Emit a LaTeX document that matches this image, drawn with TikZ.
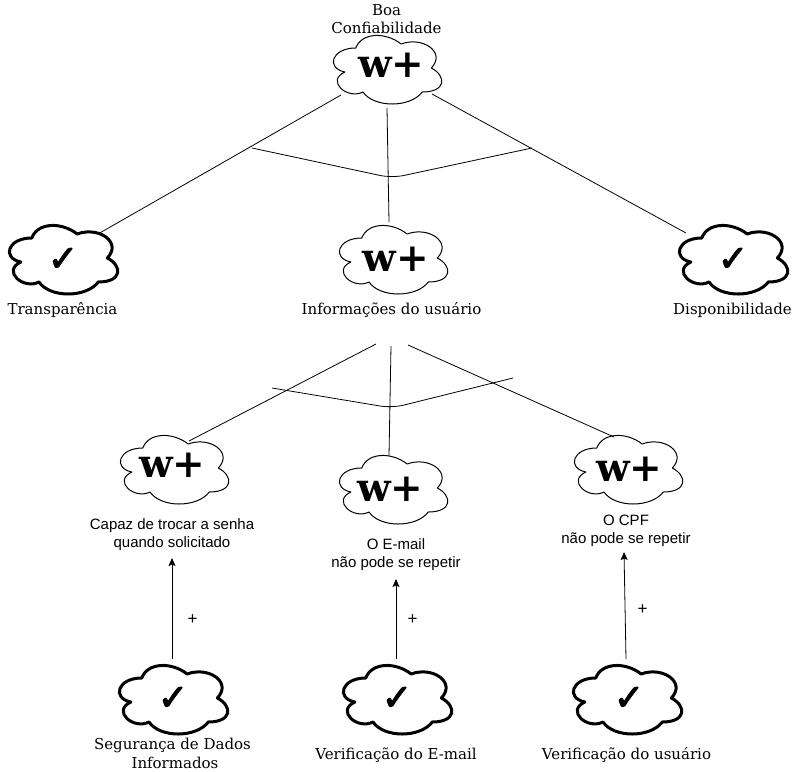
\documentclass[tikz,border=0pt]{standalone}
\usepackage{fontspec}
\usetikzlibrary{arrows.meta}
\setmainfont{DejaVu Serif}
\newfontfamily\sanslabel{Liberation Sans}
\newfontfamily\symfont[FakeBold=3]{DejaVu Sans}
\tikzset{
  x=1pt,y=-1pt,
  line/.style={draw=black,line width=0.8pt},
  tree/.style={line,rounded corners=12pt},
  arrow/.style={line,-{Stealth[length=8pt,width=7pt,inset=1.5pt]}},
  serif/.style={font=\fontsize{15}{18.5}\selectfont,align=center,text=black,inner sep=0pt},
  sans/.style={font=\sanslabel\fontsize{15}{18}\selectfont,align=center,text=black,inner sep=0pt},
  plus/.style={font=\sanslabel\fontsize{17}{18}\selectfont,text=black,inner sep=0pt},
  wplus/.style={font=\bfseries\fontsize{39}{39}\selectfont,inner sep=0pt},
  check/.style={font=\symfont\fontsize{36}{36}\selectfont,inner sep=0pt},
  pics/cld/.style={code={
    \draw[line width=#1,line join=round]
      (0.25*121,0.25*80) .. controls (0.05*121,0.25*80) and (0,0.5*80) .. (0.16*121,0.55*80)
      .. controls (0,0.66*80) and (0.18*121,0.9*80) .. (0.31*121,0.8*80)
      .. controls (0.4*121,80) and (0.7*121,80) .. (0.8*121,0.8*80)
      .. controls (121,0.8*80) and (121,0.6*80) .. (0.875*121,0.5*80)
      .. controls (121,0.3*80) and (0.8*121,0.1*80) .. (0.625*121,0.2*80)
      .. controls (0.5*121,0.05*80) and (0.3*121,0.05*80) .. (0.25*121,0.25*80) -- cycle;
  }}
}
\begin{document}
\begin{tikzpicture}
\useasboundingbox (0,0) rectangle (794,771);
% clouds
\pic at (325.5,28) {cld=1pt};
\node[wplus] (top) at (391.5,65.5) {w+};
\pic at (331.5,218) {cld=1pt};
\node[wplus] (info) at (396,259.5) {w+};
\pic at (112.5,428) {cld=1pt};
\node[wplus] (troca) at (172.5,465.5) {w+};
\pic at (331.5,448) {cld=1pt};
\node[wplus] (email) at (390.5,489.5) {w+};
\pic at (566.5,428) {cld=1pt};
\node[wplus] (cpf) at (629.5,469.5) {w+};
\pic at (1.5,218) {cld=3pt};
\node[check] (transp) at (63,259.5) {✓};
\pic at (671.5,218) {cld=3pt};
\node[check] (disp) at (733,259.5) {✓};
\pic at (111.5,658) {cld=3pt};
\node[check] (seg) at (173,698.5) {✓};
\pic at (335.5,658) {cld=3pt};
\node[check] (veremail) at (397,698.5) {✓};
\pic at (565.5,658) {cld=3pt};
\node[check] (veruser) at (629,698.5) {✓};
% labels
\node[serif] (ltop) at (386.5,19) {Boa\\Confiabilidade};
\node[serif] (ltransp) at (62.5,310.5) {Transparência};
\node[serif] (linfo) at (391.5,309.5) {Informações do usuário};
\node[serif] (ldisp) at (732.5,310.5) {Disponibilidade};
\node[sans] (ltroca) at (172,534.5) {Capaz de trocar a senha\\quando solicitado};
\node[sans] (lemail) at (396,554.5) {O E-mail\\não pode se repetir};
\node[sans] (lcpf) at (626,530.5) {O CPF\\não pode se repetir};
\node[serif] (lseg) at (172.5,753.5) {Segurança de Dados\\\hspace*{5pt}Informados};
\node[serif] (lveremail) at (396,755.5) {Verificação do E-mail};
\node[serif] (lveruser) at (626.5,754.5) {Verificação do usuário};
% connector ends
\coordinate (a1) at (341,95); \coordinate (a2) at (98,234);
\coordinate (b1) at (387,108); \coordinate (b2) at (389,222);
\coordinate (c1) at (432,94); \coordinate (c2) at (686,233);
\coordinate (d1) at (252,148); \coordinate (d2) at (392,178); \coordinate (d3) at (532,148);
\coordinate (e1) at (376,344); \coordinate (e2) at (189,441);
\coordinate (f1) at (391,346); \coordinate (f2) at (389,456);
\coordinate (g1) at (408,345); \coordinate (g2) at (614,437);
\coordinate (h1) at (272,388); \coordinate (h2) at (392,408); \coordinate (h3) at (513,378);
\coordinate (i1) at (172,659); \coordinate (i2) at (172,558);
\coordinate (j1) at (396,659); \coordinate (j2) at (396,579);
\coordinate (k1) at (626,659); \coordinate (k2) at (624,552);
\draw[line] (a1) -- (a2);
\draw[line] (b1) -- (b2);
\draw[line] (c1) -- (c2);
\draw[tree] (d1) -- (d2) -- (d3);
\draw[line] (e1) -- (e2);
\draw[line] (f1) -- (f2);
\draw[line] (g1) -- (g2);
\draw[tree] (h1) -- (h2) -- (h3);
\draw[arrow] (i1) -- (i2);
\draw[arrow] (j1) -- (j2);
\draw[arrow] (k1) -- (k2);
\node[plus] (p1) at (192.5,620) {+};
\node[plus] (p2) at (412.5,620) {+};
\node[plus] (p3) at (642.5,610) {+};
\end{tikzpicture}
\end{document}
